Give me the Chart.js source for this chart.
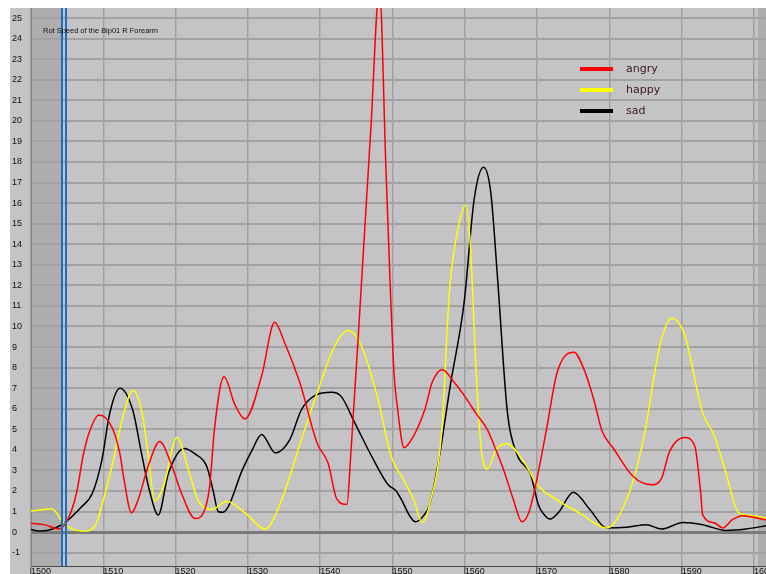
<!DOCTYPE html>
<html>
<head>
<meta charset="utf-8">
<script src="https://cdn.jsdelivr.net/npm/chart.js@4.4.1/dist/chart.umd.min.js"></script>
<style>
  html, body { margin: 0; padding: 0; background: #fff; }
</style>
</head>
<body>
<canvas id="chart" width="766" height="574"></canvas>
<script>
// values (frame, rot speed)
const angryX = [1500, 1502, 1503.8, 1505, 1506.3, 1507.2, 1508, 1509.4, 1511.2, 1512.3, 1512.8, 1513.9, 1514.8, 1516.2, 1517.8, 1519.4, 1520.8, 1522.7, 1523.8, 1524.7, 1525.4, 1526.7, 1528.2, 1529.6, 1531.9, 1533.7, 1535.1, 1537.2, 1539.6, 1541.1, 1542.3, 1543.7, 1544.2, 1545.5, 1547, 1548.2, 1549.1, 1550.2, 1550.7, 1551.6, 1552.8, 1554.5, 1555.5, 1556.9, 1558.5, 1560, 1561.5, 1563.1, 1564.3, 1565.4, 1566.7, 1567.9, 1568.8, 1569.5, 1571.2, 1572.8, 1575.1, 1576.5, 1577.8, 1579, 1580.5, 1583.3, 1585.8, 1587.2, 1588.3, 1590.4, 1591.8, 1592.6, 1592.9, 1594.5, 1595.7, 1597, 1598.4, 1601.7];
const angryY = [0.43, 0.35, 0.15, 0.55, 1.9, 3.7, 4.8, 5.7, 5.1, 3.8, 2.7, 0.94, 1.55, 3.2, 4.4, 3.3, 1.9, 0.66, 0.9, 2.2, 5.1, 7.55, 6.2, 5.5, 7.6, 10.2, 9.2, 7.25, 4.3, 3.35, 1.6, 1.35, 3.6, 10.9, 19.6, 26.4, 17.6, 7.8, 6.0, 4.1, 4.6, 6.0, 7.3, 7.9, 7.3, 6.6, 5.8, 5.0, 4.0, 3.0, 1.6, 0.5, 0.9, 1.8, 4.8, 7.8, 8.75, 7.9, 6.5, 4.9, 4.1, 2.7, 2.3, 2.6, 3.9, 4.6, 4.2, 2.0, 0.85, 0.45, 0.2, 0.6, 0.8, 0.58];

const happyX = [1500, 1502.9, 1504.5, 1505.9, 1507.5, 1509, 1510.2, 1511.2, 1512.5, 1514.1, 1515.3, 1516.2, 1517.1, 1518.3, 1520.2, 1521.8, 1523.1, 1525, 1527.1, 1529.6, 1532.4, 1534.7, 1537.4, 1539.7, 1542, 1543.9, 1545.7, 1548, 1549.8, 1551.6, 1553, 1554.1, 1555.1, 1556.9, 1557.6, 1558, 1559.2, 1560.1, 1560.8, 1561.5, 1562.2, 1563.1, 1564.3, 1565.8, 1568.2, 1570, 1572.8, 1576, 1579.6, 1582.4, 1584.7, 1587, 1588.6, 1590.4, 1592.9, 1594.5, 1596.1, 1597.9, 1599.8, 1601.7];
const happyY = [1.02, 1.12, 0.45, 0.12, 0.05, 0.4, 1.8, 3.2, 5.3, 6.9, 5.9, 3.8, 1.5, 2.2, 4.6, 3.0, 1.55, 1.1, 1.5, 0.93, 0.15, 1.6, 4.5, 6.9, 9.05, 9.8, 9.05, 6.45, 3.7, 2.5, 1.5, 0.47, 1.3, 5.3, 10.15, 12.2, 15.0, 15.9, 13.8, 8.3, 4.3, 3.05, 4.0, 4.3, 3.4, 2.3, 1.55, 0.9, 0.2, 1.6, 4.5, 9.1, 10.4, 9.6, 5.8, 4.7, 2.9, 0.93, 0.8, 0.68];

const sadX = [1500, 1501.3, 1503.1, 1504.8, 1506.9, 1508.5, 1509.8, 1510.9, 1512.3, 1514.1, 1515.3, 1516.4, 1517.6, 1519, 1521.2, 1522.7, 1524.3, 1525.2, 1525.9, 1526.5, 1527.3, 1529.2, 1530.6, 1531.9, 1533.8, 1535.8, 1537.4, 1539.3, 1541.6, 1542.9, 1544.8, 1547.1, 1549.4, 1550.5, 1551.2, 1552.5, 1553.2, 1554.3, 1555.1, 1556.4, 1558, 1559.9, 1561.3, 1562.6, 1563.6, 1564.5, 1565.9, 1567.2, 1569.1, 1570.2, 1570.9, 1571.8, 1573, 1575, 1577.3, 1579.6, 1582.4, 1585.1, 1587.2, 1590.2, 1592.9, 1596.1, 1598.9, 1601.7];
const sadY = [0.12, 0.05, 0.16, 0.5, 1.2, 1.9, 3.5, 5.8, 7.0, 5.9, 3.8, 2.0, 0.83, 2.85, 4.07, 3.8, 3.2, 2.0, 1.0, 0.96, 1.25, 3.0, 4.0, 4.75, 3.85, 4.5, 5.95, 6.65, 6.8, 6.6, 5.3, 3.7, 2.3, 2.0, 1.6, 0.72, 0.5, 0.8, 1.3, 3.5, 7.15, 11.15, 16.2, 17.75, 16.5, 12.5, 5.8, 3.8, 2.8, 1.3, 0.88, 0.63, 0.97, 1.94, 1.1, 0.2, 0.23, 0.36, 0.15, 0.47, 0.36, 0.08, 0.15, 0.31];

const seriesNames = ["angry", "happy", "sad"];
const seriesColors = ["#ff0000", "#ffff00", "#000000"];

const xTicks = [1500, 1510, 1520, 1530, 1540, 1550, 1560, 1570, 1580, 1590, 1600];
const yTicks = [-1, 0, 1, 2, 3, 4, 5, 6, 7, 8, 9, 10, 11, 12, 13, 14, 15, 16, 17, 18, 19, 20, 21, 22, 23, 24, 25];

const xRange = [1500, 1601.66];
const yRange = [-1.65, 25.49];
const shadeLeftEnd = 1504.3;
const shadeRightStart = 1600.55;
const cursorLines = [1504.3, 1504.85];
const titleText = "Rot Speed of the Bip01 R Forearm";

const toPoints = (xs, ys) => xs.map((x, i) => ({ x: x, y: ys[i] }));
const seriesData = [toPoints(angryX, angryY), toPoints(happyX, happyY), toPoints(sadX, sadY)];

// panel background, out-of-range shading, cursor lines, title and legend
const decorations = {
  id: "decorations",
  beforeDraw(chart) {
    const { ctx, chartArea: a, scales: { x } } = chart;
    ctx.save();
    ctx.fillStyle = "#ffffff";
    ctx.fillRect(0, 0, chart.width, chart.height);
    ctx.fillStyle = "#c4c3c6";
    ctx.fillRect(10, a.top, chart.width - 10, chart.height - a.top);
    ctx.fillStyle = "#adadad";
    const l = x.getPixelForValue(xRange[0]);
    const r = x.getPixelForValue(shadeLeftEnd);
    ctx.fillRect(l, a.top, r - l, a.bottom - a.top);
    const r2 = x.getPixelForValue(shadeRightStart);
    ctx.fillRect(r2, a.top, a.right - r2, a.bottom - a.top);
    ctx.restore();
  },
  afterDatasetsDraw(chart) {
    const { ctx, chartArea: a, scales: { x } } = chart;
    ctx.save();
    ctx.strokeStyle = "#1a6fc4";
    ctx.lineWidth = 2;
    cursorLines.forEach(v => {
      const px = Math.round(x.getPixelForValue(v));
      ctx.beginPath();
      ctx.moveTo(px, a.top);
      ctx.lineTo(px, a.bottom);
      ctx.stroke();
    });

    // title
    ctx.fillStyle = "#111";
    let size = 9;
    ctx.font = size + 'px "Liberation Sans"';
    size = size * 115 / ctx.measureText(titleText).width;
    ctx.font = size.toFixed(2) + 'px "Liberation Sans"';
    ctx.textBaseline = "middle";
    ctx.fillText(titleText, 43, 31);

    // legend
    ctx.font = '11px "DejaVu Sans"';
    chart.data.datasets.forEach((ds, i) => {
      const y = 69 + i * 21;
      ctx.strokeStyle = ds.borderColor;
      ctx.lineWidth = 4;
      ctx.beginPath();
      ctx.moveTo(a.right - 186, y);
      ctx.lineTo(a.right - 153, y);
      ctx.stroke();
      ctx.fillStyle = "#3a1a1a";
      ctx.fillText(ds.label, a.right - 140, y);
    });
    ctx.restore();
  }
};

new Chart(document.getElementById("chart"), {
  type: "line",
  data: {
    datasets: seriesNames.map((name, i) => ({
      label: name,
      data: seriesData[i],
      borderColor: seriesColors[i],
      borderWidth: 1.5,
      pointRadius: 0,
      fill: false,
      cubicInterpolationMode: "monotone"
    }))
  },
  options: {
    responsive: false,
    devicePixelRatio: 1,
    animation: false,
    layout: { padding: { left: 12, top: 8, right: 0, bottom: 0 } },
    plugins: { legend: { display: false }, tooltip: { enabled: false } },
    scales: {
      x: {
        type: "linear",
        min: xRange[0],
        max: xRange[1],
        afterBuildTicks: s => { s.ticks = xTicks.map(v => ({ value: v })); },
        afterFit: s => { s.height = 8; s.paddingLeft = 0; s.paddingRight = 0; },
        grid: { color: "#a0a0a0", lineWidth: 1.5, tickLength: 8, tickColor: "#3c3c3c", tickWidth: 1 },
        border: { color: "#4a4a4a", width: 1 },
        ticks: {
          align: "start",
          padding: -8,
          color: "#111",
          font: { family: '"Liberation Sans Narrow", "Liberation Sans"', size: 9 },
          callback: v => String(v)
        }
      },
      y: {
        type: "linear",
        min: yRange[0],
        max: yRange[1],
        afterBuildTicks: s => { s.ticks = yTicks.map(v => ({ value: v })); },
        afterFit: s => { s.width = 19; s.paddingTop = 0; s.paddingBottom = 0; },
        grid: {
          drawTicks: false,
          color: c => (c.tick && c.tick.value === 0 ? "#7a7a7a" : "#a2a2a2"),
          lineWidth: c => (c.tick && c.tick.value === 0 ? 3 : 2)
        },
        border: { color: "#858585", width: 1 },
        ticks: {
          crossAlign: "far",
          padding: 0,
          color: "#111",
          font: { family: '"Liberation Sans Narrow", "Liberation Sans"', size: 9 },
          callback: v => String(v)
        }
      }
    }
  },
  plugins: [decorations]
});
</script>
</body>
</html>
